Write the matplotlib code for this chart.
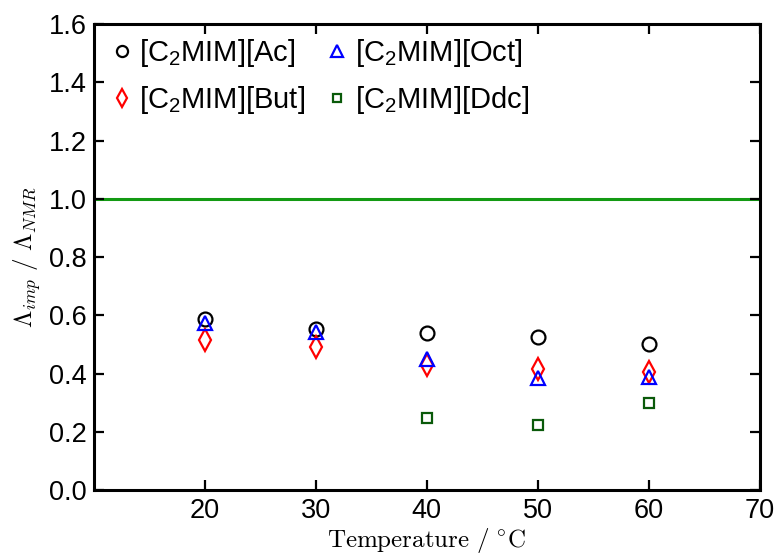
import matplotlib
matplotlib.use("Agg")
import matplotlib.pyplot as plt

# Data
temperature = [20, 30, 40, 50, 60]
ac = [0.586, 0.553, 0.540, 0.526, 0.501]
but = [0.515, 0.492, 0.429, 0.414, 0.404]
oct_ = [0.575, 0.544, 0.450, 0.386, 0.389]
ddc_temperature = [40, 50, 60]
ddc = [0.246, 0.223, 0.298]
reference_level = 1.0

plt.rcParams["font.family"] = ["Liberation Sans", "DejaVu Sans"]
plt.rcParams["mathtext.fontset"] = "cm"


def build_chart() -> None:
    fig = plt.figure(figsize=(7.76, 5.54), dpi=100)
    ax = fig.add_axes([0.121, 0.1155, 0.858, 0.841])

    ax.axhline(reference_level, color="#139a13", lw=2.2, zorder=1)

    sub = r"$\mathregular{_2}$"
    ax.plot(temperature, ac, "o", ls="none", mfc="none", mec="black",
            mew=1.6, ms=10, label=f"[C{sub}MIM][Ac]")
    ax.plot(temperature, but, "d", ls="none", mfc="none", mec="red",
            mew=1.6, ms=11, label=f"[C{sub}MIM][But]")
    ax.plot(temperature, oct_, "^", ls="none", mfc="none", mec="blue",
            mew=1.6, ms=10, label=f"[C{sub}MIM][Oct]")
    ax.plot(ddc_temperature, ddc, "s", ls="none", mfc="none", mec="#0a5a0a",
            mew=1.6, ms=6.5, label=f"[C{sub}MIM][Ddc]")

    ax.set_xlim(10, 70)
    ax.set_ylim(0, 1.6)
    ax.set_xticks([20, 30, 40, 50, 60, 70])
    ax.set_yticks([0.0, 0.2, 0.4, 0.6, 0.8, 1.0, 1.2, 1.4, 1.6])
    ax.set_yticklabels([f"{v:.1f}" for v in ax.get_yticks()])

    ax.tick_params(direction="in", length=7, width=1.6, labelsize=19.5,
                   top=True, right=True, pad=5)
    ax.tick_params(axis="x", pad=6)
    for s in ax.spines.values():
        s.set_linewidth(2.2)

    ax.set_xlabel(r"$\mathrm{Temperature\ /\ ^{\circ}C}$", fontsize=18, labelpad=1)
    ax.set_ylabel(r"$\Lambda_{imp}\ /\ \Lambda_{NMR}$", fontsize=18, labelpad=4)

    ax.legend(ncol=2, loc="upper left", frameon=False, fontsize=21,
              handletextpad=0.1, columnspacing=0.6, labelspacing=0.5,
              borderaxespad=0.25, handlelength=1.0, markerscale=0.8,
              borderpad=0.2)

    fig.savefig("out.png", dpi=100)


def main() -> None:
    build_chart()


if __name__ == "__main__":
    main()
